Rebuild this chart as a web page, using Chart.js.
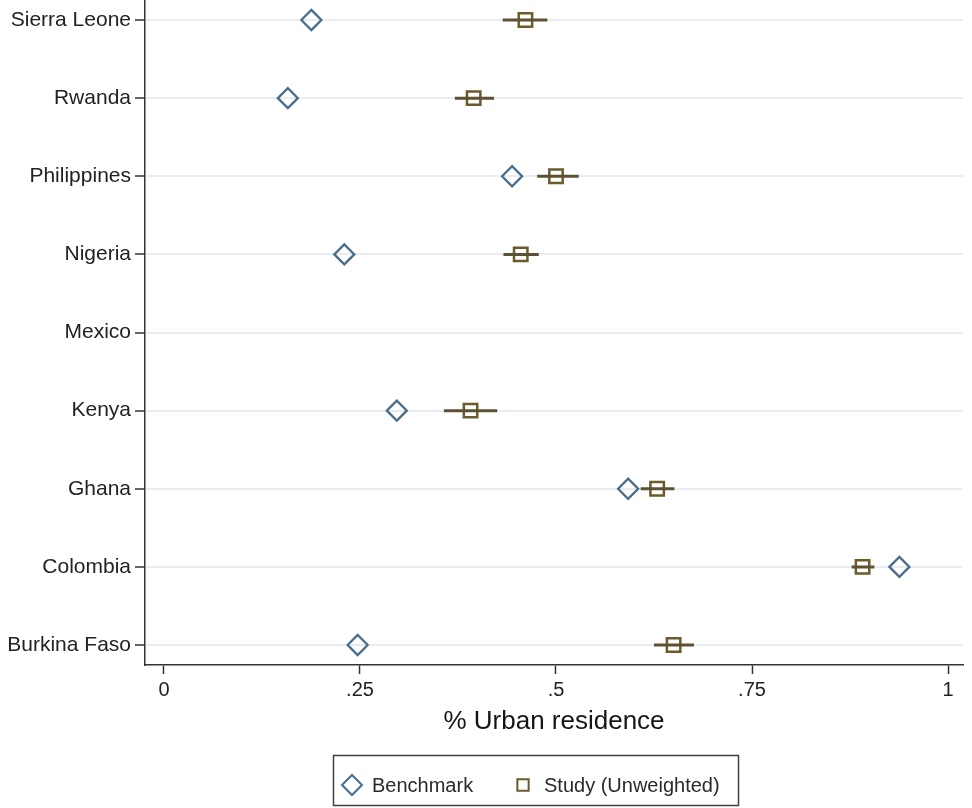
<!DOCTYPE html>
<html>
<head>
<meta charset="utf-8">
<script src="https://cdn.jsdelivr.net/npm/chart.js@4.4.1/dist/chart.umd.min.js"></script>
<style>
  html, body { margin: 0; padding: 0; background: #ffffff; }
  #wrap { width: 972px; height: 808px; }
</style>
</head>
<body>
<div id="wrap"><canvas id="c" width="972" height="808"></canvas></div>
<script>
// Countries, listed top to bottom
const countries = ['Sierra Leone', 'Rwanda', 'Philippines', 'Nigeria', 'Mexico', 'Kenya', 'Ghana', 'Colombia', 'Burkina Faso'];
// Share living in urban areas (Mexico has no estimate)
const benchmark = [0.188, 0.158, 0.444, 0.230, null, 0.297, 0.592, 0.938, 0.247];
const study     = [0.461, 0.395, 0.500, 0.455, null, 0.391, 0.629, 0.891, 0.650];
const studyLow  = [0.432, 0.371, 0.476, 0.433, null, 0.357, 0.608, 0.877, 0.625];
const studyHigh = [0.489, 0.421, 0.529, 0.478, null, 0.425, 0.651, 0.906, 0.676];
// Horizontal axis ticks
const xTicks = [0, 0.25, 0.5, 0.75, 1];
const xTickLabels = ['0', '.25', '.5', '.75', '1'];

const FONT = "'Liberation Sans', Arial, Helvetica, sans-serif";
const BENCH_COLOR = '#4a6d8d';
const STUDY_COLOR = '#6b5a2b';
const CI_COLOR = '#5c5233';

const benchPoints = [];
const studyPoints = [];
const ciPoints = [];
countries.forEach((c, i) => {
  if (benchmark[i] !== null) benchPoints.push({ x: benchmark[i], y: i });
  if (study[i] !== null) studyPoints.push({ x: study[i], y: i });
  if (studyLow[i] !== null) {
    ciPoints.push({ x: studyLow[i], y: i });
    ciPoints.push({ x: studyHigh[i], y: i });
    ciPoints.push({ x: null, y: null });
  }
});

// Boxed legend drawn below the axis title
const boxedLegend = {
  id: 'boxedLegend',
  afterDraw(chart) {
    const ctx = chart.ctx;
    ctx.save();
    ctx.strokeStyle = '#404040';
    ctx.lineWidth = 1.5;
    ctx.strokeRect(333.5, 755.5, 405, 50);
    const items = [
      { ds: chart.data.datasets[1], px: 352, tx: 372, r: 10 },
      { ds: chart.data.datasets[2], px: 523, tx: 544, r: 8 }
    ];
    const cy = 785;
    items.forEach(it => {
      ctx.strokeStyle = it.ds.borderColor;
      ctx.fillStyle = 'rgba(0,0,0,0)';
      ctx.lineWidth = 2;
      Chart.helpers.drawPoint(ctx, { pointStyle: it.ds.pointStyle, radius: it.r, rotation: 0, borderWidth: 2 }, it.px, cy);
      ctx.fillStyle = '#2a2a2a';
      ctx.font = '20px ' + FONT;
      ctx.textBaseline = 'middle';
      ctx.textAlign = 'left';
      ctx.fillText(it.ds.label, it.tx, cy + 1);
    });
    ctx.restore();
  }
};

new Chart(document.getElementById('c'), {
  type: 'scatter',
  data: {
    datasets: [
      {
        label: 'CI',
        type: 'line',
        data: ciPoints,
        borderColor: CI_COLOR,
        borderWidth: 3,
        pointRadius: 0,
        showLine: true,
        spanGaps: false,
        order: 0
      },
      {
        label: 'Benchmark',
        data: benchPoints,
        pointStyle: 'rectRot',
        pointRadius: 10,
        pointHoverRadius: 10,
        borderColor: BENCH_COLOR,
        backgroundColor: 'rgba(255,255,255,0)',
        borderWidth: 2.3,
        order: 1
      },
      {
        label: 'Study (Unweighted)',
        data: studyPoints,
        pointStyle: 'rect',
        pointRadius: 9.5,
        pointHoverRadius: 9.5,
        borderColor: STUDY_COLOR,
        backgroundColor: 'rgba(255,255,255,0)',
        borderWidth: 2.5,
        order: 1
      }
    ]
  },
  options: {
    responsive: false,
    animation: false,
    devicePixelRatio: 1,
    layout: { autoPadding: false, padding: { top: 0, left: 0, right: 9, bottom: 71 } },
    plugins: {
      legend: { display: false },
      tooltip: { enabled: false }
    },
    scales: {
      x: {
        type: 'linear',
        min: -0.0242,
        max: 1.0191,
        afterBuildTicks: s => { s.ticks = xTicks.map(v => ({ value: v })); },
        afterFit: s => { s.height = 72; },
        ticks: {
          callback: v => xTickLabels[xTicks.indexOf(v)],
          font: { family: FONT, size: 20 },
          color: '#222222',
          padding: 4,
          maxRotation: 0
        },
        grid: {
          drawOnChartArea: false,
          drawTicks: true,
          tickLength: 9,
          tickColor: '#333333',
          tickWidth: 1.5
        },
        border: { display: true, color: '#333333', width: 1.5 },
        title: {
          display: true,
          text: '% Urban residence',
          font: { family: FONT, size: 26 },
          color: '#151515',
          padding: { top: 0, bottom: 0 }
        }
      },
      y: {
        type: 'linear',
        reverse: true,
        min: -0.256,
        max: 8.256,
        afterBuildTicks: s => { s.ticks = countries.map((c, i) => ({ value: i })); },
        afterFit: s => { s.width = 145; s.paddingTop = 0; s.paddingBottom = 0; },
        ticks: {
          callback: v => countries[v],
          font: { family: FONT, size: 21 },
          color: '#222222',
          padding: 4
        },
        grid: {
          color: '#e9edf0',
          lineWidth: 2,
          tickLength: 10,
          tickColor: '#333333',
          tickWidth: 1.5
        },
        border: { display: true, color: '#333333', width: 1.5 }
      }
    }
  },
  plugins: [boxedLegend]
});
</script>
</body>
</html>
